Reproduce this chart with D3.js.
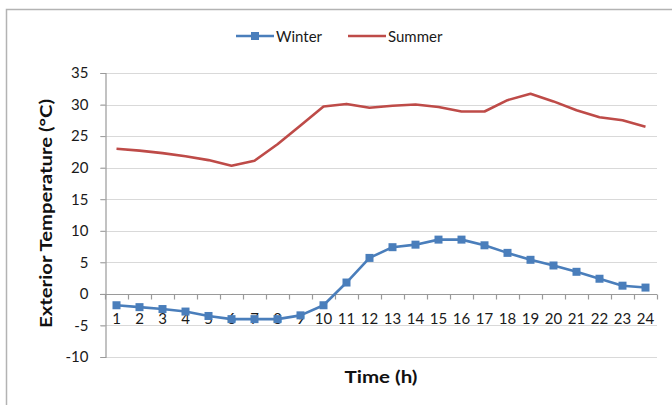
<!DOCTYPE html>
<html>
<head>
<meta charset="utf-8">
<script src="https://cdn.jsdelivr.net/npm/d3@7/dist/d3.min.js"></script>
<style>
  html, body { margin: 0; padding: 0; background: #fff; }
  svg { display: block; font-family: Lato, "Open Sans", sans-serif; }
</style>
</head>
<body>
<svg id="chart" width="672" height="405"></svg>
<script>
// Hourly exterior temperature, hours 1..24
const hours = d3.range(1, 25);
const winter = [-1.8, -2.1, -2.4, -2.8, -3.5, -4.0, -4.0, -4.0, -3.4, -1.8, 1.8, 5.7,
                7.4, 7.8, 8.6, 8.6, 7.7, 6.5, 5.4, 4.5, 3.5, 2.4, 1.3, 1.0];
const summer = [23.0, 22.7, 22.3, 21.8, 21.2, 20.3, 21.1, 23.7, 26.7, 29.7, 30.1, 29.5,
                29.8, 30.0, 29.6, 28.9, 28.9, 30.7, 31.7, 30.5, 29.1, 28.0, 27.5, 26.5];
const yTicks = [-10, -5, 0, 5, 10, 15, 20, 25, 30, 35];
const seriesNames = ["Winter", "Summer"];
const seriesColors = ["#4a7ebb", "#be4b48"];

const svg = d3.select("#chart");

// outer chart frame
svg.append("rect")
  .attr("x", 6.5).attr("y", 9.5).attr("width", 700).attr("height", 420)
  .attr("fill", "none").attr("stroke", "#b3b3b3").attr("stroke-width", 1.5);

const plot = { left: 105, right: 657, top: 73, bottom: 357 };

const x = d3.scaleBand().domain(hours).range([plot.left, plot.right]).padding(0);
const y = d3.scaleLinear().domain([-10, 35]).range([plot.bottom, plot.top]);

// horizontal gridlines
svg.append("g").selectAll("line").data(yTicks).join("line")
  .attr("x1", plot.left - 5).attr("x2", plot.right)
  .attr("y1", d => Math.round(y(d)) + 0.5).attr("y2", d => Math.round(y(d)) + 0.5)
  .attr("stroke", d => d === 0 ? "#9a9a9a" : "#d9d9d9").attr("stroke-width", 1.2);

// y axis (plain hyphen for negative labels)
const yAxis = svg.append("g")
  .attr("transform", `translate(${plot.left + 0.5},0)`)
  .call(d3.axisLeft(y).tickValues(yTicks).tickSize(5).tickPadding(12).tickFormat(d => String(d)));
yAxis.select(".domain").attr("stroke", "#9a9a9a").attr("stroke-width", 1.2);
yAxis.selectAll(".tick line").attr("stroke", "#9a9a9a");
yAxis.selectAll(".tick text").attr("fill", "#1a1a1a").style("font-size", "15px")
  .style("font-family", "Lato, sans-serif");

// x axis along zero, tick marks at category boundaries
const y0 = Math.round(y(0)) + 0.5;
svg.append("g").selectAll("line").data(d3.range(0, 25)).join("line")
  .attr("x1", d => Math.round(plot.left + d * x.step()) + 0.5)
  .attr("x2", d => Math.round(plot.left + d * x.step()) + 0.5)
  .attr("y1", y0).attr("y2", y0 + 5)
  .attr("stroke", "#9a9a9a").attr("stroke-width", 1.2);
svg.append("g").selectAll("text").data(hours).join("text")
  .attr("x", d => x(d) + x.bandwidth() / 2)
  .attr("y", y0 + 29.5)
  .attr("text-anchor", "middle")
  .attr("fill", "#1a1a1a")
  .style("font-size", "15px")
  .text(d => d);

const line = d3.line()
  .x((d, i) => x(hours[i]) + x.bandwidth() / 2)
  .y(d => y(d));

// summer line
svg.append("path").datum(summer)
  .attr("d", line).attr("fill", "none")
  .attr("stroke", seriesColors[1]).attr("stroke-width", 2.6)
  .attr("stroke-linejoin", "round");

// winter line with square markers
svg.append("path").datum(winter)
  .attr("d", line).attr("fill", "none")
  .attr("stroke", seriesColors[0]).attr("stroke-width", 2.6)
  .attr("stroke-linejoin", "round");
svg.append("g").selectAll("rect").data(winter).join("rect")
  .attr("x", (d, i) => x(hours[i]) + x.bandwidth() / 2 - 4)
  .attr("y", d => y(d) - 4)
  .attr("width", 8).attr("height", 8)
  .attr("fill", seriesColors[0]);

// axis titles
svg.append("text")
  .attr("transform", "translate(45,213.5) rotate(-90)")
  .attr("text-anchor", "middle").attr("dominant-baseline", "central")
  .attr("fill", "#111").style("font-size", "17px").style("font-weight", "bold")
  .attr("textLength", 229).attr("lengthAdjust", "spacingAndGlyphs")
  .text("Exterior Temperature (°C)");
svg.append("text")
  .attr("x", 381).attr("y", 376).attr("dominant-baseline", "central")
  .attr("text-anchor", "middle")
  .attr("fill", "#111").style("font-size", "17px").style("font-weight", "bold")
  .attr("textLength", 73).attr("lengthAdjust", "spacingAndGlyphs")
  .text("Time (h)");

// legend
const legend = svg.append("g");
const legendItems = [
  { name: seriesNames[0], color: seriesColors[0], x0: 236, marker: true },
  { name: seriesNames[1], color: seriesColors[1], x0: 348, marker: false }
];
legendItems.forEach(it => {
  legend.append("line")
    .attr("x1", it.x0).attr("x2", it.x0 + 38).attr("y1", 36).attr("y2", 36)
    .attr("stroke", it.color).attr("stroke-width", 2.6);
  if (it.marker) {
    legend.append("rect").attr("x", it.x0 + 15).attr("y", 32).attr("width", 8).attr("height", 8)
      .attr("fill", it.color);
  }
  legend.append("text")
    .attr("x", it.x0 + 40).attr("y", 36).attr("dominant-baseline", "central")
    .attr("fill", "#1a1a1a").style("font-size", "15px")
    .text(it.name);
});
</script>
</body>
</html>
